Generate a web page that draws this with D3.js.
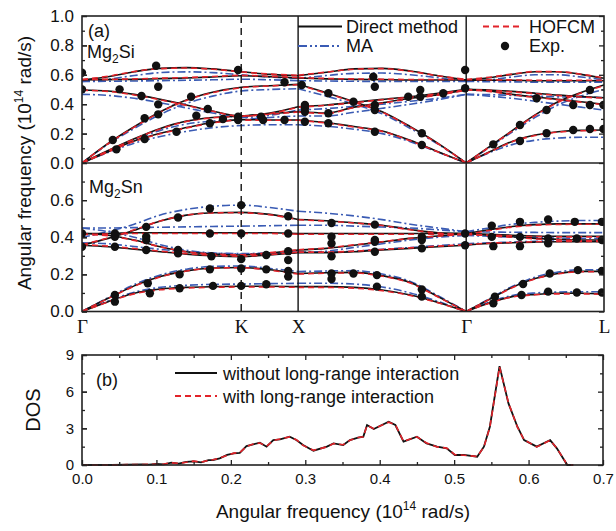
<!DOCTYPE html>
<html><head><meta charset="utf-8">
<script src="https://cdn.jsdelivr.net/npm/d3@7"></script>
<style>
html,body{margin:0;padding:0;background:#fff;}
svg{display:block;font-family:"Liberation Sans",Arial,sans-serif;}
</style></head><body>
<svg id="chart" width="616" height="531"></svg>
<script>
// ---- high-symmetry path (normalised path coordinate) ----
const symPos = [0, 0.305, 0.414, 0.736, 1.0];
const symLabels = ["Γ", "K", "X", "Γ", "L"];

// sample positions along each path segment
const kGKX = [0, 0.05, 0.10, 0.15, 0.20, 0.25, 0.305, 0.36, 0.414];
const kXG  = [0.414, 0.468, 0.521, 0.575, 0.629, 0.682, 0.736];
const kGL  = [0.736, 0.780, 0.824, 0.868, 0.912, 0.956, 1.0];

// ---- Mg2Si branches (10^14 rad/s) ----
const siDirectGKX = [
  [.565,.587,.621,.644,.649,.640,.621,.603,.594],
  [.565,.567,.569,.574,.578,.585,.594,.587,.578],
  [.497,.490,.467,.433,.395,.354,.320,.340,.383],
  [0,.134,.247,.349,.429,.481,.515,.526,.535],
  [0,.085,.165,.235,.285,.310,.320,.335,.350],
  [0,.077,.150,.202,.241,.275,.295,.293,.293]
];
const siDirectXG = [
  [.594,.617,.640,.644,.626,.594,.565],
  [.578,.572,.569,.567,.565,.565,.565],
  [.535,.478,.417,.349,.247,.134,0],
  [.383,.395,.413,.433,.451,.474,.501],
  [.350,.340,.380,.410,.440,.465,.497],
  [.293,.275,.248,.218,.154,.077,0]
];
const siDirectGL = [
  [.565,.580,.603,.621,.621,.603,.576],
  [.565,.563,.563,.560,.560,.560,.560],
  [.501,.497,.487,.475,.462,.452,.444],
  [.501,.490,.467,.449,.433,.417,.399],
  [0,.110,.220,.327,.417,.480,.531],
  [0,.075,.147,.190,.213,.222,.224]
];
const siHofcmGKX = [
  [.568,.590,.622,.642,.646,.638,.620,.605,.597],
  [.568,.569,.572,.577,.581,.588,.596,.590,.581],
  [.495,.487,.463,.430,.392,.352,.318,.337,.380],
  [0,.131,.244,.346,.426,.478,.512,.524,.532],
  [0,.083,.162,.232,.282,.307,.318,.332,.347],
  [0,.075,.147,.199,.238,.272,.292,.291,.291]
];
const siHofcmXG = [
  [.597,.618,.638,.642,.624,.593,.568],
  [.581,.575,.572,.570,.568,.568,.568],
  [.532,.475,.414,.346,.244,.131,0],
  [.380,.392,.410,.430,.448,.471,.498],
  [.347,.337,.377,.407,.437,.462,.495],
  [.291,.272,.245,.215,.151,.075,0]
];
const siHofcmGL = [
  [.568,.583,.605,.622,.621,.604,.578],
  [.568,.566,.565,.563,.563,.563,.563],
  [.498,.494,.484,.472,.459,.449,.441],
  [.498,.487,.464,.446,.430,.414,.396],
  [0,.108,.217,.323,.413,.476,.527],
  [0,.073,.144,.187,.210,.219,.221]
];
const siMaGKX = [
  [.555,.570,.595,.615,.620,.615,.600,.585,.575],
  [.555,.556,.558,.560,.563,.566,.570,.566,.560],
  [.467,.460,.440,.410,.375,.340,.310,.325,.360],
  [0,.128,.235,.330,.405,.455,.490,.500,.505],
  [0,.082,.158,.222,.265,.285,.295,.310,.320],
  [0,.072,.135,.180,.215,.240,.255,.260,.260]
];
const siMaXG = [
  [.575,.595,.610,.612,.600,.580,.555],
  [.560,.558,.556,.555,.555,.555,.555],
  [.505,.455,.400,.335,.235,.128,0],
  [.360,.370,.385,.400,.420,.440,.467],
  [.320,.320,.345,.372,.400,.430,.467],
  [.260,.250,.230,.200,.145,.074,0]
];
const siMaGL = [
  [.555,.565,.585,.600,.600,.585,.565],
  [.555,.553,.552,.550,.550,.550,.550],
  [.467,.465,.460,.455,.450,.448,.445],
  [.467,.455,.440,.420,.400,.380,.360],
  [0,.105,.210,.310,.395,.455,.500],
  [0,.070,.125,.155,.170,.175,.175]
];
const siExp = [
  [0,.614],[0,.501],[.142,.662],[.146,.519],[.072,.501],[.114,.456],[.146,.399],[.209,.451],
  [.120,.304],[.146,.331],[.059,.156],[.066,.093],[.120,.163],[.181,.213],[.219,.322],[.241,.367],
  [.245,.270],[.270,.299],[.299,.633],[.299,.315],[.299,.293],[.343,.315],[.347,.293],[.388,.293],[.388,.549],
  [.421,.531],[.427,.395],[.427,.372],[.427,.349],[.427,.281],[.472,.474],[.472,.338],[.472,.270],
  [.520,.417],[.558,.587],[.561,.519],[.561,.395],[.561,.361],[.561,.213],[.625,.451],[.648,.497],
  [.648,.451],[.651,.202],[.651,.122],[.692,.474],[.734,.633],[.734,.508],
  [.788,.127],[.839,.259],[.839,.150],[.871,.440],[.890,.361],[.890,.202],[.941,.395],[.941,.224],
  [.973,.497],[.973,.395],[.973,.231],[.999,.395],[.999,.231]
];

// ---- Mg2Sn branches (10^14 rad/s) ----
const snDirectGKX = [
  [.357,.394,.438,.487,.519,.532,.534,.523,.496],
  [.420,.420,.424,.424,.424,.424,.424,.424,.420],
  [.420,.411,.385,.349,.322,.309,.304,.315,.331],
  [.357,.349,.336,.322,.309,.300,.295,.305,.317],
  [0,.071,.138,.188,.219,.234,.237,.225,.205],
  [0,.053,.098,.121,.130,.134,.136,.136,.134]
];
const snDirectXG = [
  [.496,.489,.478,.465,.442,.424,.420],
  [.420,.420,.420,.420,.420,.420,.420],
  [.331,.340,.357,.375,.394,.407,.420],
  [.317,.317,.322,.331,.340,.349,.357],
  [.205,.209,.211,.193,.156,.080,0],
  [.134,.134,.130,.116,.089,.049,0]
];
const snDirectGL = [
  [.420,.440,.458,.468,.472,.472,.472],
  [.420,.416,.411,.407,.405,.405,.405],
  [.420,.411,.403,.394,.389,.385,.385],
  [.357,.366,.370,.374,.376,.376,.376],
  [0,.065,.130,.178,.205,.216,.216],
  [0,.046,.080,.092,.098,.098,.095]
];
const snHofcmGKX = [
  [.360,.396,.440,.488,.519,.531,.532,.521,.494],
  [.416,.417,.420,.420,.420,.420,.420,.420,.416],
  [.416,.408,.383,.348,.322,.310,.306,.317,.333],
  [.360,.352,.339,.325,.312,.303,.298,.307,.320],
  [0,.070,.136,.186,.218,.233,.236,.222,.202],
  [0,.051,.095,.117,.126,.130,.132,.132,.130]
];
const snHofcmXG = [
  [.494,.487,.477,.463,.440,.422,.416],
  [.416,.416,.416,.416,.416,.416,.416],
  [.333,.342,.359,.376,.394,.406,.416],
  [.320,.320,.325,.334,.343,.352,.360],
  [.202,.206,.208,.190,.153,.078,0],
  [.130,.130,.126,.112,.086,.047,0]
];
const snHofcmGL = [
  [.416,.436,.455,.465,.469,.470,.470],
  [.416,.412,.408,.404,.402,.402,.402],
  [.416,.408,.400,.391,.386,.382,.382],
  [.360,.368,.372,.376,.378,.378,.378],
  [0,.064,.128,.176,.203,.214,.214],
  [0,.045,.078,.090,.095,.095,.093]
];
const snMaGKX = [
  [.400,.430,.470,.520,.550,.567,.573,.560,.540],
  [.450,.450,.452,.454,.456,.458,.460,.462,.465],
  [.450,.430,.400,.360,.330,.315,.310,.312,.318],
  [.370,.365,.350,.335,.322,.315,.312,.315,.320],
  [0,.075,.145,.197,.228,.243,.245,.232,.215],
  [0,.056,.104,.130,.141,.146,.148,.150,.152]
];
const snMaXG = [
  [.540,.530,.515,.495,.470,.450,.430],
  [.465,.465,.460,.455,.450,.440,.430],
  [.318,.325,.345,.365,.385,.400,.410],
  [.320,.320,.325,.335,.345,.355,.365],
  [.215,.218,.220,.202,.162,.085,0],
  [.152,.152,.148,.132,.100,.054,0]
];
const snMaGL = [
  [.430,.450,.470,.480,.487,.490,.490],
  [.430,.428,.427,.426,.425,.425,.425],
  [.410,.405,.400,.398,.396,.395,.395],
  [.365,.370,.374,.378,.380,.380,.380],
  [0,.068,.135,.185,.213,.225,.225],
  [0,.050,.086,.100,.105,.106,.106]
];
const snExp = [
  [0,.420],[0,.349],[.063,.420],[.063,.403],[.063,.349],[.063,.089],[.063,.053],[.123,.456],
  [.123,.403],[.123,.385],[.123,.331],[.126,.152],[.130,.098],[.184,.506],[.184,.331],[.184,.313],
  [.187,.200],[.187,.125],[.245,.555],[.245,.420],[.248,.298],[.245,.227],[.251,.138],[.305,.573],
  [.305,.420],[.305,.282],[.305,.232],[.305,.138],[.353,.304],[.353,.227],[.353,.147],[.395,.513],
  [.395,.420],[.395,.325],[.395,.277],[.395,.218],[.395,.188],
  [.478,.477],[.478,.403],[.478,.366],[.478,.298],[.478,.205],[.478,.175],[.520,.205],[.561,.468],
  [.561,.385],[.561,.376],[.561,.322],[.565,.196],[.565,.134],[.651,.403],[.651,.385],[.651,.340],
  [.651,.119],[.651,.080],[.734,.420],[.734,.357],
  [.785,.462],[.785,.402],[.788,.352],[.791,.080],[.788,.044],[.839,.483],[.839,.402],[.839,.352],
  [.842,.089],[.845,.148],[.893,.496],[.893,.393],[.893,.367],[.896,.205],[.893,.107],[.944,.483],
  [.948,.393],[.950,.223],[.948,.102],[.996,.483],[.996,.385],[.996,.218],[.996,.102]
];

// ---- phonon density of states ----
const dosFreq = [0,.02,.04,.06,.08,.09,.10,.11,.12,.13,.14,.15,.16,.17,.176,.185,.195,.204,.212,.221,
  .23,.239,.248,.257,.266,.279,.288,.297,.311,.329,.338,.351,.36,.371,.378,.383,.392,.412,.421,.432,
  .45,.463,.477,.49,.501,.513,.531,.54,.548,.561,.573,.585,.594,.611,.629,.638,.652,.66];
const dosWithout = [0,0,0,.02,.05,.03,.08,.05,.2,.12,.25,.3,.22,.4,.41,.55,.82,.95,1.0,1.55,
  1.69,1.83,1.5,2.04,2.1,2.32,2.04,1.63,1.17,1.5,1.77,1.63,2.04,2.23,2.32,3.27,2.94,3.54,3.27,1.91,
  2.32,1.77,1.5,1.36,.82,.82,.68,1.5,3.13,8.09,5.04,3.13,2.04,1.5,2.04,1.36,0,0];
const dosWith = [0,0,.01,.03,.04,.05,.06,.07,.18,.14,.23,.32,.24,.38,.43,.57,.8,.97,1.03,1.52,
  1.71,1.8,1.53,2.0,2.12,2.3,2.07,1.6,1.2,1.48,1.75,1.66,2.02,2.25,2.3,3.24,2.97,3.5,3.3,1.94,
  2.3,1.8,1.48,1.38,.85,.8,.7,1.47,3.1,8.02,5.08,3.1,2.06,1.48,2.02,1.38,.02,0];

const siTicks = [0, 0.2, 0.4, 0.6, 0.8, 1.0];
const snTicks = [0, 0.2, 0.4, 0.6];
const dosXTicks = [0, 0.1, 0.2, 0.3, 0.4, 0.5, 0.6, 0.7];
const dosYTicks = [0, 3, 6, 9];

// ---- layout ----
const svg = d3.select("#chart");
const L = 82, R = 604, T = 16, MID = 163, B = 311.5;
const x = d3.scaleLinear().domain([0, 1]).range([L, R]);
const ySi = d3.scaleLinear().domain([0, 1]).range([MID, T]);
const ySn = d3.scaleLinear().domain([0, 0.8]).range([B, MID]);

const styles = {
  ma:     {stroke: "#3a5bb4", dash: "8,3,2,3", w: 1.6},
  direct: {stroke: "#111",    dash: null,      w: 1.6},
  hofcm:  {stroke: "#e2232a", dash: "6,4",     w: 1.6}
};

const defs = svg.append("defs");
defs.append("clipPath").attr("id", "clipSi").append("rect")
  .attr("x", L).attr("y", T).attr("width", R - L).attr("height", MID - T);
defs.append("clipPath").attr("id", "clipSn").append("rect")
  .attr("x", L).attr("y", MID).attr("width", R - L).attr("height", B - MID);

function drawBranches(g, y, segments, st) {
  const line = d3.line().x(d => x(d[0])).y(d => y(d[1])).curve(d3.curveMonotoneX);
  segments.forEach(([ks, branches]) => {
    branches.forEach(vals => {
      g.append("path")
        .datum(vals.map((v, i) => [ks[i], v]))
        .attr("d", line)
        .attr("fill", "none")
        .attr("stroke", st.stroke)
        .attr("stroke-width", st.w)
        .attr("stroke-dasharray", st.dash);
    });
  });
}

function drawPanel(clipId, y, ma, direct, hofcm, exp) {
  const g = svg.append("g").attr("clip-path", `url(#${clipId})`);
  drawBranches(g, y, ma, styles.ma);
  drawBranches(g, y, direct, styles.direct);
  drawBranches(g, y, hofcm, styles.hofcm);
  g.selectAll("circle.exp").data(exp).join("circle")
    .attr("class", "exp")
    .attr("cx", d => x(d[0])).attr("cy", d => y(d[1])).attr("r", 4.2)
    .attr("fill", "#111");
}

drawPanel("clipSi", ySi,
  [[kGKX, siMaGKX], [kXG, siMaXG], [kGL, siMaGL]],
  [[kGKX, siDirectGKX], [kXG, siDirectXG], [kGL, siDirectGL]],
  [[kGKX, siHofcmGKX], [kXG, siHofcmXG], [kGL, siHofcmGL]],
  siExp);
drawPanel("clipSn", ySn,
  [[kGKX, snMaGKX], [kXG, snMaXG], [kGL, snMaGL]],
  [[kGKX, snDirectGKX], [kXG, snDirectXG], [kGL, snDirectGL]],
  [[kGKX, snHofcmGKX], [kXG, snHofcmXG], [kGL, snHofcmGL]],
  snExp);

// high-symmetry vertical lines
symPos.slice(1, 4).forEach((p, i) => {
  svg.append("line")
    .attr("x1", x(p)).attr("x2", x(p)).attr("y1", T).attr("y2", B)
    .attr("stroke", "#111").attr("stroke-width", 1.4)
    .attr("stroke-dasharray", symLabels[i + 1] === "K" ? "7,5" : null);
});

// frame
svg.append("rect").attr("x", L).attr("y", T).attr("width", R - L).attr("height", B - T)
  .attr("fill", "none").attr("stroke", "#222").attr("stroke-width", 1.6);
svg.append("line").attr("x1", L).attr("x2", R).attr("y1", MID).attr("y2", MID)
  .attr("stroke", "#222").attr("stroke-width", 1.6);

function styleAxis(sel, fontSize) {
  sel.select(".domain").remove();
  sel.selectAll(".tick line").attr("stroke", "#222").attr("stroke-width", 1.3);
  sel.selectAll(".tick text").attr("font-size", fontSize).attr("fill", "#111")
    .attr("font-family", '"Liberation Sans", Arial, sans-serif');
}
function yAxes(scale, labelled, major, minor, fmt, fontSize, left, right) {
  svg.append("g").attr("transform", `translate(${left},0)`)
    .call(d3.axisLeft(scale).tickValues(labelled).tickFormat(fmt).tickSizeInner(-5).tickSizeOuter(0).tickPadding(8))
    .call(s => styleAxis(s, fontSize));
  svg.append("g").attr("transform", `translate(${left},0)`)
    .call(d3.axisLeft(scale).tickValues(major.concat([])).tickFormat("").tickSizeInner(-5).tickSizeOuter(0))
    .call(s => styleAxis(s, fontSize));
  svg.append("g").attr("transform", `translate(${left},0)`)
    .call(d3.axisLeft(scale).tickValues(minor).tickFormat("").tickSizeInner(-3).tickSizeOuter(0))
    .call(s => styleAxis(s, fontSize));
  svg.append("g").attr("transform", `translate(${right},0)`)
    .call(d3.axisRight(scale).tickValues(major).tickFormat("").tickSizeInner(-5).tickSizeOuter(0))
    .call(s => styleAxis(s, fontSize));
  svg.append("g").attr("transform", `translate(${right},0)`)
    .call(d3.axisRight(scale).tickValues(minor).tickFormat("").tickSizeInner(-3).tickSizeOuter(0))
    .call(s => styleAxis(s, fontSize));
}
yAxes(ySi, siTicks, siTicks, [0.1, 0.3, 0.5, 0.7, 0.9], d3.format(".1f"), 17, L, R);
yAxes(ySn, snTicks, [0, 0.2, 0.4, 0.6], [0.1, 0.3, 0.5, 0.7], d3.format(".1f"), 17, L, R);

// high-symmetry point labels
svg.append("g").attr("transform", `translate(0,${B})`)
  .call(d3.axisBottom(x).tickValues(symPos).tickFormat((d, i) => symLabels[i]).tickSize(0).tickPadding(8))
  .call(s => {
    s.select(".domain").remove();
    s.selectAll(".tick text").attr("font-size", 19).attr("fill", "#111")
      .attr("font-family", '"Liberation Serif", "Times New Roman", serif');
  });

// y title
const yt = svg.append("text").attr("transform", "translate(31,163) rotate(-90)")
  .attr("text-anchor", "middle").attr("font-size", 19).attr("fill", "#111");
yt.append("tspan").text("Angular frequency (10");
yt.append("tspan").text("14").attr("font-size", 12).attr("dy", -8);
yt.append("tspan").text(" rad/s)").attr("dy", 8);

// panel labels
function chem(xp, yp, base, sub, rest) {
  const t = svg.append("text").attr("x", xp).attr("y", yp).attr("font-size", 18).attr("fill", "#111");
  t.append("tspan").text(base);
  t.append("tspan").text(sub).attr("font-size", 12).attr("dy", 5);
  t.append("tspan").text(rest).attr("dy", -5);
}
svg.append("text").attr("x", 88).attr("y", 37).attr("font-size", 18).attr("fill", "#111").text("(a)");
chem(87, 58, "Mg", "2", "Si");
chem(89, 193, "Mg", "2", "Sn");

// dispersion legend
const lg = svg.append("g").attr("font-size", 18).attr("fill", "#111");
lg.append("line").attr("x1", 298).attr("x2", 342).attr("y1", 26.5).attr("y2", 26.5)
  .attr("stroke", styles.direct.stroke).attr("stroke-width", 1.8);
lg.append("text").attr("x", 346).attr("y", 33).text("Direct method");
lg.append("line").attr("x1", 483).attr("x2", 523).attr("y1", 26.5).attr("y2", 26.5)
  .attr("stroke", styles.hofcm.stroke).attr("stroke-width", 1.8).attr("stroke-dasharray", styles.hofcm.dash);
lg.append("text").attr("x", 529).attr("y", 33).text("HOFCM");
lg.append("line").attr("x1", 298).attr("x2", 342).attr("y1", 46).attr("y2", 46)
  .attr("stroke", styles.ma.stroke).attr("stroke-width", 1.8).attr("stroke-dasharray", "9,3,2,3,2,3");
lg.append("text").attr("x", 346).attr("y", 52).text("MA");
lg.append("circle").attr("cx", 505).attr("cy", 46).attr("r", 4.2).attr("fill", "#111");
lg.append("text").attr("x", 529).attr("y", 52).text("Exp.");

// ---- DOS panel ----
const DT = 355, DB = 465, DR = 603;
const xd = d3.scaleLinear().domain([0, 0.7]).range([L, DR]);
const yd = d3.scaleLinear().domain([0, 9]).range([DB, DT]);

const dosLine = d3.line().x(d => xd(d[0])).y(d => yd(d[1]));
svg.append("path").datum(dosFreq.map((f, i) => [f, dosWithout[i]]))
  .attr("d", dosLine).attr("fill", "none").attr("stroke", "#111").attr("stroke-width", 1.8);
svg.append("path").datum(dosFreq.map((f, i) => [f, dosWith[i]]))
  .attr("d", dosLine).attr("fill", "none").attr("stroke", styles.hofcm.stroke)
  .attr("stroke-width", 1.6).attr("stroke-dasharray", "6,4");

svg.append("rect").attr("x", L).attr("y", DT).attr("width", DR - L).attr("height", DB - DT)
  .attr("fill", "none").attr("stroke", "#222").attr("stroke-width", 1.6);

const dosMinorX = [0.05, 0.15, 0.25, 0.35, 0.45, 0.55, 0.65];
svg.append("g").attr("transform", `translate(0,${DB})`)
  .call(d3.axisBottom(xd).tickValues(dosXTicks).tickFormat(d3.format(".1f")).tickSizeInner(-5).tickSizeOuter(0).tickPadding(8))
  .call(s => styleAxis(s, 15));
svg.append("g").attr("transform", `translate(0,${DB})`)
  .call(d3.axisBottom(xd).tickValues(dosMinorX).tickFormat("").tickSizeInner(-3).tickSizeOuter(0))
  .call(s => styleAxis(s, 15));
svg.append("g").attr("transform", `translate(0,${DT})`)
  .call(d3.axisTop(xd).tickValues(dosXTicks).tickFormat("").tickSizeInner(-5).tickSizeOuter(0))
  .call(s => styleAxis(s, 15));
svg.append("g").attr("transform", `translate(0,${DT})`)
  .call(d3.axisTop(xd).tickValues(dosMinorX).tickFormat("").tickSizeInner(-3).tickSizeOuter(0))
  .call(s => styleAxis(s, 15));
yAxes(yd, dosYTicks, dosYTicks, [1.5, 4.5, 7.5], d3.format("d"), 15, L, DR);

svg.append("text").attr("x", 96).attr("y", 386).attr("font-size", 18).attr("fill", "#111").text("(b)");
svg.append("line").attr("x1", 175).attr("x2", 217).attr("y1", 373).attr("y2", 373)
  .attr("stroke", "#111").attr("stroke-width", 1.8);
svg.append("text").attr("x", 223).attr("y", 380).attr("font-size", 18).attr("fill", "#111")
  .text("without long-range interaction");
svg.append("line").attr("x1", 175).attr("x2", 217).attr("y1", 396).attr("y2", 396)
  .attr("stroke", styles.hofcm.stroke).attr("stroke-width", 1.8).attr("stroke-dasharray", "6,4");
svg.append("text").attr("x", 223).attr("y", 403).attr("font-size", 18).attr("fill", "#111")
  .text("with long-range interaction");

svg.append("text").attr("transform", "translate(40,410) rotate(-90)")
  .attr("text-anchor", "middle").attr("font-size", 20).attr("fill", "#111").text("DOS");

const xt = svg.append("text").attr("x", 343).attr("y", 518)
  .attr("text-anchor", "middle").attr("font-size", 19).attr("fill", "#111");
xt.append("tspan").text("Angular frequency (10");
xt.append("tspan").text("14").attr("font-size", 12).attr("dy", -8);
xt.append("tspan").text(" rad/s)").attr("dy", 8);
</script>
</body></html>
